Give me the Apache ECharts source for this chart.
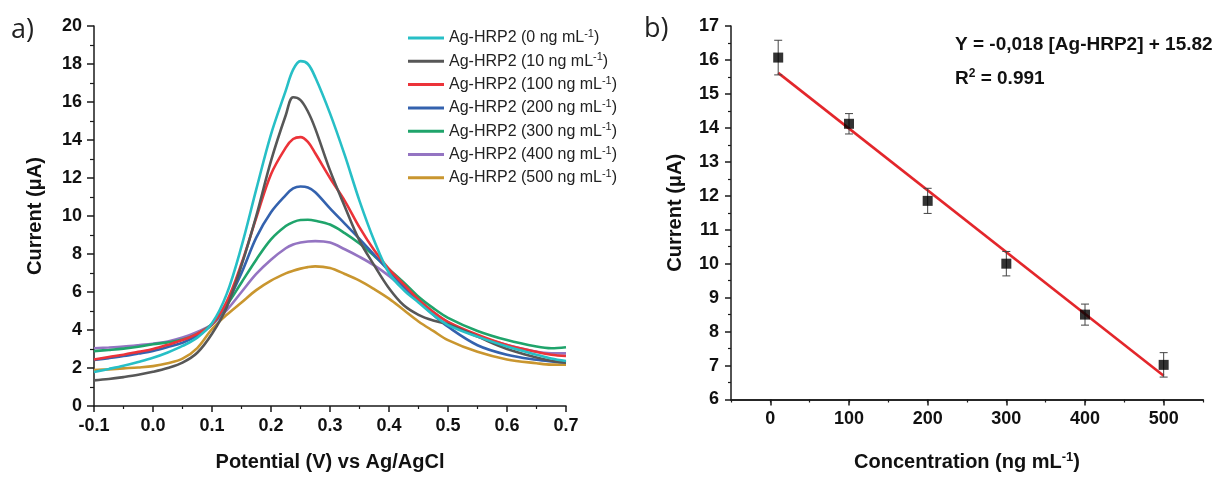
<!DOCTYPE html>
<html><head><meta charset="utf-8">
<script src="https://cdn.jsdelivr.net/npm/echarts@6/dist/echarts.min.js"></script>
<style>html,body{margin:0;padding:0;background:#fff}#c{width:1226px;height:477px}</style>
</head><body><div id="c"></div>
<script>
// ---------- Panel a data (DPV curves) ----------
const potential = [-0.1,-0.075,-0.05,-0.025,0,0.025,0.05,0.075,0.1,0.125,0.15,0.175,0.2,0.225,0.2375,0.25,0.2625,0.275,0.3,0.325,0.35,0.375,0.4,0.425,0.45,0.475,0.5,0.55,0.6,0.65,0.675,0.7];
const conc0   = [1.79,1.95,2.12,2.32,2.54,2.82,3.16,3.6,4.35,5.9,8.4,11.4,14.3,16.6,17.7,18.15,18.0,17.3,15.4,13.2,10.8,8.7,7.0,6.1,5.45,4.8,4.26,3.65,3.13,2.7,2.5,2.37];
const conc10  = [1.35,1.42,1.52,1.64,1.8,2.0,2.28,2.8,3.8,5.2,7.4,10.0,12.9,15.3,16.25,16.1,15.5,14.6,12.4,10.5,8.7,7.4,6.2,5.3,4.8,4.5,4.3,3.65,3.0,2.55,2.38,2.28];
const conc100 = [2.45,2.58,2.7,2.85,3.0,3.22,3.47,3.8,4.3,5.5,7.5,9.9,12.2,13.6,14.05,14.15,13.9,13.3,12.0,10.8,9.4,8.2,7.2,6.4,5.6,4.95,4.43,3.75,3.21,2.85,2.7,2.63];
const conc200 = [2.42,2.52,2.63,2.76,2.9,3.1,3.33,3.7,4.3,5.4,7.0,8.86,10.2,11.1,11.45,11.55,11.5,11.25,10.4,9.6,8.8,7.95,7.1,6.3,5.55,4.8,4.17,3.2,2.7,2.43,2.35,2.3];
const conc300 = [2.89,2.95,3.02,3.12,3.25,3.35,3.5,3.8,4.3,5.3,6.5,7.7,8.77,9.47,9.68,9.79,9.8,9.75,9.55,9.1,8.55,7.9,7.2,6.5,5.75,5.15,4.64,3.95,3.47,3.13,3.04,3.09];
const conc400 = [3.04,3.08,3.13,3.2,3.28,3.4,3.6,3.9,4.3,5.05,6.0,6.95,7.7,8.3,8.5,8.6,8.66,8.68,8.6,8.25,7.85,7.4,6.85,6.2,5.6,4.95,4.4,3.7,3.21,2.86,2.78,2.77];
const conc500 = [1.89,1.93,1.98,2.03,2.1,2.25,2.49,3.05,4.05,4.8,5.45,6.1,6.6,6.98,7.12,7.23,7.31,7.35,7.26,6.95,6.6,6.15,5.65,5.05,4.45,3.95,3.47,2.85,2.45,2.25,2.18,2.18];
const seriesConc = ['0','10','100','200','300','400','500'];
const seriesColors = ['#27BFC6','#575757','#EC3339','#3462AE','#1FA46B','#9474C2','#C9962F'];

// ---------- Panel b data (calibration) ----------
const calConc = [10,100,200,300,400,500];
const calCurrent = [16.07,14.12,11.85,10.0,8.5,7.02];
const calError = [0.51,0.30,0.37,0.36,0.31,0.36];
const fitX = [10,500];
const fitY = [15.62,6.70];
const xTicksB = [0,100,200,300,400,500];

const curves = [conc0,conc10,conc100,conc200,conc300,conc400,conc500];
const FONT = '"Liberation Sans", Arial, sans-serif';
const AXC = '#1a1a1a';

const chart = echarts.init(document.getElementById('c'), null, {renderer:'canvas'});

const labelStyle = () => ({color:'#111',fontFamily:FONT,fontWeight:'bold',fontSize:18,margin:11});
const nameStyle = () => ({color:'#111',fontFamily:FONT,fontWeight:'bold',fontSize:20});
const axisLine = () => ({show:true,onZero:false,lineStyle:{color:AXC,width:1.5}});

const lineSeries = curves.map((arr,i)=>({
  name: seriesConc[i],
  type:'line', xAxisIndex:0, yAxisIndex:0,
  data: potential.map((p,j)=>[p,arr[j]]),
  smooth:0.35, showSymbol:false, symbol:'none',
  lineStyle:{width:2.6,color:seriesColors[i]}, itemStyle:{color:seriesColors[i]},
  z: 10-i
}));

const option = {
  animation:false,
  textStyle:{fontFamily:FONT},
  grid:[
    {left:94,top:26,width:472,height:382},
    {left:731,top:26,width:472,height:381}
  ],
  xAxis:[
    {gridIndex:0,type:'value',min:-0.1,max:0.7,interval:0.1,position:'bottom',
      name:'Potential (V) vs Ag/AgCl',nameLocation:'middle',nameGap:46,nameTextStyle:nameStyle(),
      axisLine:axisLine(),splitLine:{show:false},
      axisTick:{show:true,length:6,lineStyle:{color:AXC,width:1.5}},
      minorTick:{show:true,splitNumber:2,length:3,lineStyle:{color:AXC,width:1.2}},
      axisLabel:Object.assign(labelStyle(),{formatter:v=>v.toFixed(1)})},
    {gridIndex:1,type:'value',min:-50,max:550,interval:50,position:'bottom',
      name:'{t|Concentration (ng mL}{s|-1}{t|)}',nameLocation:'middle',nameGap:51,
      nameTextStyle:{rich:{t:nameStyle(),s:{fontFamily:FONT,fontWeight:'bold',fontSize:13,color:'#111',padding:[0,0,10,0]}}},
      axisLine:axisLine(),splitLine:{show:false},
      axisTick:{show:true,length:3,lineStyle:{color:AXC,width:1.2}},
      minorTick:{show:false},
      axisLabel:Object.assign(labelStyle(),{formatter:v=>(v%100===0?String(v):'')})},
    {gridIndex:1,type:'value',min:-50,max:550,position:'bottom',
      axisLine:axisLine(),splitLine:{show:false},
      axisTick:{show:true,length:6,customValues:xTicksB,lineStyle:{color:AXC,width:1.5}},
      axisLabel:{show:false}}
  ],
  yAxis:[
    {gridIndex:0,type:'value',min:0,max:20,interval:2,
      name:'Current (μA)',nameLocation:'middle',nameGap:49,nameTextStyle:nameStyle(),
      axisLine:axisLine(),splitLine:{show:false},
      axisTick:{show:true,length:7,lineStyle:{color:AXC,width:1.5}},
      minorTick:{show:true,splitNumber:2,length:4,lineStyle:{color:AXC,width:1.2}},
      axisLabel:Object.assign(labelStyle(),{margin:12})},
    {gridIndex:1,type:'value',min:6,max:17,interval:1,
      name:'Current (μA)',nameLocation:'middle',nameGap:46,nameTextStyle:nameStyle(),
      axisLine:axisLine(),splitLine:{show:false},
      axisTick:{show:true,length:6,lineStyle:{color:AXC,width:1.5}},
      minorTick:{show:true,splitNumber:2,length:3,lineStyle:{color:AXC,width:1.2}},
      axisLabel:Object.assign(labelStyle(),{margin:12})}
  ],
  legend:{
    left:408, top:28.5, padding:0, orient:'vertical', itemWidth:36, itemHeight:3, itemGap:4.8,
    icon:'rect',
    data: seriesConc,
    formatter: n => '{t|Ag-HRP2 (' + n + ' ng mL}{s|-1}{t|)}',
    textStyle:{lineHeight:18, rich:{
      t:{fontFamily:FONT,fontSize:16,color:'#222'},
      s:{fontFamily:FONT,fontSize:11,color:'#222',padding:[0,0,8,0]}
    }}
  },
  graphic:[
    {type:'text',left:11,top:17,style:{text:'a)',font:'27px "Open Sans", sans-serif',fill:'#222'}},
    {type:'text',left:644,top:16,style:{text:'b)',font:'27px "Open Sans", sans-serif',fill:'#222'}},
    {type:'text',left:955,top:35,style:{text:'Y = -0,018 [Ag-HRP2] + 15.82',font:'bold 19px "Liberation Sans", Arial, sans-serif',fill:'#111'}},
    {type:'text',left:955,top:68,style:{text:'{t|R}{s|2}{t| = 0.991}',
      rich:{t:{font:'bold 19px "Liberation Sans", Arial, sans-serif',fill:'#111'},s:{font:'bold 12px "Liberation Sans", Arial, sans-serif',fill:'#111',padding:[0,0,9,0]}}}}
  ],
  series: lineSeries.concat([
    {type:'line',xAxisIndex:1,yAxisIndex:1,data:fitX.map((x,i)=>[x,fitY[i]]),
      showSymbol:false,symbol:'none',lineStyle:{color:'#E3262B',width:2.6},z:3},
    {type:'custom',xAxisIndex:1,yAxisIndex:1,
      data:calConc.map((c,i)=>[c,calCurrent[i],calError[i]]),
      encode:{x:0,y:1},
      renderItem:(params,api)=>{
        const x=api.value(0),y=api.value(1),e=api.value(2);
        const t=api.coord([x,y+e]), b=api.coord([x,y-e]);
        const w=4, st={stroke:'#444',lineWidth:1};
        return {type:'group',children:[
          {type:'line',shape:{x1:t[0],y1:t[1],x2:b[0],y2:b[1]},style:st},
          {type:'line',shape:{x1:t[0]-w,y1:t[1],x2:t[0]+w,y2:t[1]},style:st},
          {type:'line',shape:{x1:b[0]-w,y1:b[1],x2:b[0]+w,y2:b[1]},style:st}
        ]};
      },z:4},
    {type:'scatter',xAxisIndex:1,yAxisIndex:1,data:calConc.map((c,i)=>[c,calCurrent[i]]),
      symbol:'rect',symbolSize:10,itemStyle:{color:'#000'},z:5}
  ])
};
chart.setOption(option);
</script></body></html>
